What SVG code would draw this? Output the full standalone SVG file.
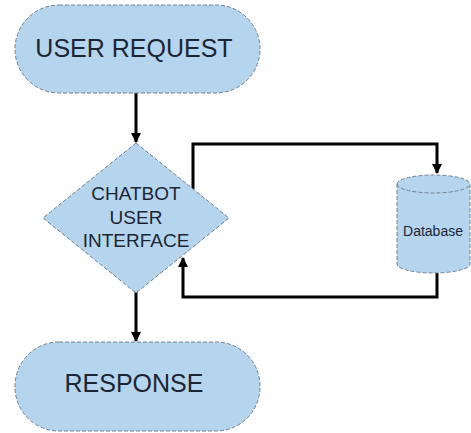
<svg xmlns="http://www.w3.org/2000/svg" width="471" height="433" viewBox="0 0 471 433">
<style>
.shape{fill:#b5d5ef;stroke:#6f7f8f;stroke-width:1;stroke-dasharray:4 2}
.lbl{font-family:"Liberation Sans",Arial,sans-serif;fill:#1c2533;text-anchor:middle}
.conn{fill:none;stroke:#000;stroke-width:3}
</style>
<defs>
<marker id="ah" markerWidth="10" markerHeight="10" refX="9" refY="5" orient="auto" markerUnits="userSpaceOnUse" viewBox="0 0 10 10">
<path d="M0,0 L10,5 L0,10 z" fill="#000"/>
</marker>
</defs>
<rect width="471" height="433" fill="#fff"/>
<g id="connectors">
<path class="conn" d="M136,93 V142" marker-end="url(#ah)"/>
<path class="conn" d="M193,189 V144 H437 V173" marker-end="url(#ah)"/>
<path class="conn" d="M437,273 V297 H183 V258" marker-end="url(#ah)"/>
<path class="conn" d="M136,292 V341" marker-end="url(#ah)"/>
</g>
<g id="user-request">
<rect class="shape" x="15" y="5" width="245" height="88" rx="44" ry="44"/>
<text class="lbl" x="134" y="57" font-size="25">USER REQUEST</text>
</g>
<g id="chatbot-ui">
<polygon class="shape" points="136,143 229,218 136,293 43,218"/>
<text class="lbl" x="136" y="200" font-size="19">CHATBOT</text>
<text class="lbl" x="136" y="224" font-size="19">USER</text>
<text class="lbl" x="136" y="247" font-size="19">INTERFACE</text>
</g>
<g id="database">
<path class="shape" d="M397,184 A36.5,9 0 0 1 470,184 V264 A36.5,9 0 0 1 397,264 Z"/>
<path class="shape" d="M397,184 A36.5,9 0 0 0 470,184" fill="none"/>
<text class="lbl" x="433" y="236" font-size="14">Database</text>
</g>
<g id="response">
<rect class="shape" x="15" y="342" width="245" height="89" rx="44" ry="44"/>
<text class="lbl" x="134" y="392" font-size="25">RESPONSE</text>
</g>
</svg>
